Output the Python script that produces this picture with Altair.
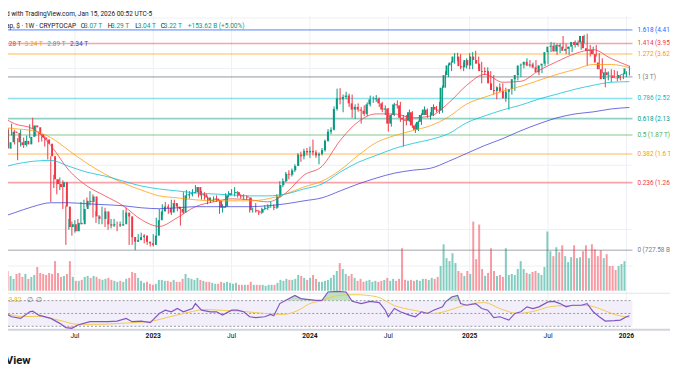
import altair as alt
import pandas as pd

# ---------------- data (weekly bars from 2022-01-03) ----------------
START = pd.Timestamp("2022-01-03")
T0 = START.value // 10**6
WEEK_MS = 7 * 86400000


def wk(w):
    return int(T0 + round(w * WEEK_MS))


first_open = 2.20
close = [
    1.93, 1.98, 1.67, 1.76, 1.92, 1.90, 1.76, 1.72, 1.78, 1.73,
    1.84, 2.02, 1.99, 1.88, 1.83, 1.80, 1.74, 1.57, 1.30, 1.25,
    1.22, 1.27, 1.04, 0.88, 0.90, 0.85, 0.91, 0.90, 1.02, 1.09,
    1.08, 1.13, 0.96, 0.94, 0.94, 1.00, 0.90, 0.89, 0.90, 0.90,
    0.89, 0.90, 0.99, 0.96, 0.81, 0.78, 0.79, 0.81, 0.82, 0.78,
    0.77, 0.76, 0.82, 0.93, 1.00, 1.04, 1.03, 0.99, 1.07, 1.04,
    1.02, 0.99, 1.14, 1.15, 1.16, 1.17, 1.22, 1.14, 1.15, 1.12,
    1.09, 1.10, 1.11, 1.09, 1.03, 1.04, 1.14, 1.16, 1.16, 1.17,
    1.14, 1.13, 1.13, 1.12, 1.01, 1.01, 1.00, 0.99, 1.02, 1.03,
    1.04, 1.04, 1.03, 1.13, 1.24, 1.28, 1.36, 1.35, 1.40, 1.45,
    1.59, 1.57, 1.64, 1.62, 1.64, 1.62, 1.58, 1.60, 1.65, 1.78,
    1.92, 1.95, 2.31, 2.52, 2.50, 2.55, 2.58, 2.42, 2.30, 2.35,
    2.30, 2.28, 2.22, 2.40, 2.50, 2.50, 2.52, 2.42, 2.30, 2.32,
    2.05, 2.20, 2.40, 2.38, 2.15, 2.12, 2.10, 2.25, 2.02, 1.95,
    2.08, 2.20, 2.30, 2.20, 2.20, 2.35, 2.30, 2.28, 2.75, 3.05,
    3.30, 3.38, 3.55, 3.55, 3.28, 3.25, 3.45, 3.30, 3.55, 3.45,
    3.35, 3.15, 3.13, 3.15, 2.85, 2.70, 2.68, 2.76, 2.68, 2.52,
    2.66, 2.72, 2.95, 3.05, 3.30, 3.32, 3.40, 3.30, 3.33, 3.25,
    3.12, 3.30, 3.35, 3.68, 3.85, 3.88, 3.70, 3.90, 3.85, 3.72,
    3.78, 3.85, 4.00, 3.90, 3.98, 4.20, 3.80, 3.72, 3.75, 3.62,
    3.38, 3.20, 2.95, 3.12, 3.05, 3.04, 2.98, 2.97, 3.05, 3.07,
    3.22,
]
high = [
    2.27, 2.06, 2.02, 1.80, 1.95, 2.05, 1.95, 1.82, 1.95, 1.83,
    1.86, 2.04, 2.15, 2.02, 1.92, 1.88, 1.85, 1.80, 1.57, 1.35,
    1.30, 1.32, 1.29, 1.05, 0.94, 0.92, 0.93, 0.94, 1.08, 1.10,
    1.12, 1.18, 1.15, 1.00, 0.97, 1.04, 1.03, 0.93, 0.94, 0.94,
    0.92, 0.92, 1.01, 1.03, 0.97, 0.82, 0.80, 0.83, 0.84, 0.83,
    0.79, 0.78, 0.83, 0.95, 1.02, 1.06, 1.08, 1.06, 1.10, 1.10,
    1.07, 1.03, 1.17, 1.19, 1.18, 1.20, 1.24, 1.22, 1.18, 1.17,
    1.13, 1.12, 1.13, 1.14, 1.10, 1.06, 1.16, 1.18, 1.20, 1.22,
    1.18, 1.15, 1.15, 1.14, 1.12, 1.03, 1.07, 1.01, 1.03, 1.05,
    1.06, 1.08, 1.06, 1.15, 1.28, 1.31, 1.38, 1.40, 1.42, 1.47,
    1.61, 1.63, 1.67, 1.68, 1.70, 1.80, 1.65, 1.62, 1.68, 1.80,
    1.96, 1.99, 2.36, 2.73, 2.74, 2.60, 2.66, 2.62, 2.60, 2.40,
    2.42, 2.35, 2.38, 2.44, 2.58, 2.56, 2.59, 2.54, 2.45, 2.38,
    2.33, 2.22, 2.43, 2.48, 2.45, 2.20, 2.20, 2.30, 2.27, 2.05,
    2.10, 2.23, 2.36, 2.32, 2.25, 2.40, 2.37, 2.45, 2.80, 3.15,
    3.35, 3.42, 3.65, 3.66, 3.62, 3.38, 3.50, 3.65, 3.68, 3.72,
    3.55, 3.40, 3.25, 3.25, 3.15, 3.05, 2.78, 2.85, 2.85, 2.75,
    2.70, 2.78, 2.98, 3.10, 3.35, 3.40, 3.50, 3.45, 3.38, 3.45,
    3.30, 3.33, 3.42, 3.72, 4.00, 3.98, 3.95, 3.95, 4.20, 3.95,
    3.85, 3.90, 4.05, 4.05, 4.02, 4.24, 4.28, 3.90, 3.85, 3.90,
    3.65, 3.50, 3.22, 3.14, 3.20, 3.18, 3.15, 3.05, 3.10, 3.15,
    3.29,
]
low = [
    1.88, 1.87, 1.60, 1.50, 1.68, 1.86, 1.73, 1.52, 1.70, 1.68,
    1.70, 1.82, 1.96, 1.85, 1.76, 1.77, 1.70, 1.53, 1.08, 1.21,
    1.15, 1.19, 1.02, 0.76, 0.86, 0.82, 0.84, 0.85, 0.90, 0.93,
    1.04, 1.05, 0.95, 0.91, 0.90, 0.90, 0.88, 0.86, 0.87, 0.88,
    0.85, 0.88, 0.89, 0.95, 0.76, 0.76, 0.728, 0.78, 0.80, 0.77,
    0.76, 0.75, 0.75, 0.81, 0.92, 0.97, 1.00, 0.98, 0.97, 1.02,
    1.00, 0.89, 0.98, 1.10, 1.11, 1.13, 1.16, 1.12, 1.10, 1.10,
    1.06, 1.07, 1.08, 1.08, 0.98, 0.99, 1.03, 1.12, 1.14, 1.13,
    1.12, 1.11, 1.10, 1.10, 0.99, 0.99, 0.99, 0.97, 0.98, 1.01,
    1.01, 1.03, 1.01, 1.02, 1.12, 1.22, 1.27, 1.30, 1.33, 1.38,
    1.45, 1.50, 1.53, 1.58, 1.55, 1.58, 1.55, 1.47, 1.58, 1.63,
    1.77, 1.88, 1.94, 2.28, 2.40, 2.25, 2.50, 2.35, 2.15, 2.13,
    2.26, 2.05, 2.18, 2.18, 2.36, 2.43, 2.45, 2.35, 2.25, 2.20,
    1.92, 2.00, 2.18, 2.32, 2.08, 1.70, 2.02, 2.08, 1.98, 1.90,
    1.93, 2.03, 2.20, 2.15, 2.12, 2.18, 2.25, 2.22, 2.24, 2.75,
    3.00, 3.15, 3.35, 3.42, 3.20, 3.15, 3.22, 3.20, 3.20, 3.35,
    3.20, 2.85, 3.05, 3.10, 2.70, 2.60, 2.50, 2.65, 2.62, 2.45,
    2.30, 2.60, 2.68, 2.92, 3.00, 3.22, 3.28, 3.25, 3.22, 3.20,
    3.05, 3.10, 3.28, 3.33, 3.68, 3.70, 3.60, 3.65, 3.80, 3.62,
    3.60, 3.68, 3.82, 3.85, 3.75, 3.95, 3.30, 3.55, 3.62, 3.55,
    3.20, 3.10, 2.76, 2.92, 2.88, 2.98, 2.90, 2.92, 2.95, 3.00,
    3.04,
]
volume = [
    18, 20, 20, 15, 12, 17, 18, 14, 17, 12,
    14, 16, 24, 18, 17, 16, 18, 17, 30, 18,
    14, 15, 17, 30, 14, 10, 10, 11, 14, 15,
    13, 15, 14, 12, 11, 12, 13, 11, 10, 9,
    10, 9, 12, 13, 19, 18, 13, 10, 8, 9,
    7, 6, 7, 11, 11, 10, 10, 9, 11, 9,
    9, 12, 17, 13, 12, 11, 13, 11, 10, 9,
    9, 8, 7, 7, 9, 8, 9, 8, 7, 8,
    6, 6, 6, 6, 9, 6, 6, 6, 6, 5,
    6, 6, 6, 8, 11, 10, 12, 11, 11, 12,
    16, 15, 13, 11, 13, 16, 12, 9, 9, 10,
    11, 13, 16, 20, 28, 22, 17, 15, 17, 13,
    10, 12, 9, 10, 11, 9, 10, 9, 10, 11,
    13, 10, 12, 10, 12, 43, 11, 10, 11, 10,
    11, 10, 12, 12, 11, 13, 12, 14, 25, 47,
    33, 30, 38, 28, 20, 18, 15, 20, 17, 70,
    32, 67, 22, 15, 18, 43, 20, 15, 16, 14,
    43, 16, 17, 16, 22, 30, 22, 18, 17, 19,
    20, 18, 16, 24, 60, 40, 35, 44, 39, 46,
    35, 29, 34, 46, 33, 34, 40, 46, 33, 47,
    42, 35, 41, 33, 37, 25, 25, 21, 25, 27,
    30,
]

# moving averages read every 6 weeks (T)
ma_step = 6
ma_red = [2.239, 2.048, 1.967, 1.714, 1.400, 1.231, 1.135, 1.047, 0.935, 0.884,
          0.950, 1.039, 1.081, 1.108, 1.099, 1.081, 1.163, 1.345, 1.446, 1.785,
          2.081, 2.220, 2.220, 2.150, 2.184, 2.427, 2.806, 3.069, 2.876, 2.899,
          3.168, 3.407, 3.635, 3.755, 3.49, 3.28]
ma_orange = [2.0, 1.967, 1.935, 1.829, 1.646, 1.482, 1.356, 1.261, 1.191, 1.135,
             1.117, 1.099, 1.090, 1.090, 1.090, 1.108, 1.153, 1.221, 1.281, 1.400,
             1.581, 1.756, 1.858, 1.935, 2.016, 2.167, 2.407, 2.547, 2.674, 2.784,
             2.922, 3.069, 3.194, 3.326, 3.326, 3.24]
ma_cyan = [1.411, 1.470, 1.506, 1.518, 1.446, 1.378, 1.335, 1.281, 1.231, 1.201,
           1.182, 1.163, 1.153, 1.144, 1.135, 1.135, 1.153, 1.201, 1.251, 1.378,
           1.494, 1.581, 1.672, 1.742, 1.800, 1.889, 2.065, 2.184, 2.293, 2.387,
           2.508, 2.61, 2.717, 2.806, 2.876, 2.89]
ma_blue = [0.942, 0.989, 1.039, 1.073, 1.073, 1.064, 1.056, 1.047, 1.030, 1.022,
           1.030, 1.039, 1.039, 1.039, 1.039, 1.047, 1.064, 1.090, 1.117, 1.182,
           1.251, 1.313, 1.367, 1.400, 1.423, 1.506, 1.607, 1.714, 1.814, 1.935,
           2.048, 2.150, 2.220, 2.257, 2.312, 2.34]

# RSI (week index, value) and its moving average
rsi_w = [1, 5, 8, 11, 12, 14, 18, 21, 23, 25, 27, 31, 34, 37, 40, 43, 45, 48, 51, 54,
         56, 58, 60, 62, 65, 66, 68, 71, 73, 75, 78, 80, 82, 84, 86, 89, 91, 92, 94, 96,
         99, 101, 103, 106, 108, 110, 113, 116, 118, 121, 124, 127, 129, 130, 132, 134,
         137, 139, 141, 143, 145, 148, 149, 151, 153, 154, 156, 159, 161, 163, 165, 167,
         170, 172, 174, 176, 178, 180, 183, 185, 187, 189, 191, 194, 196, 198, 200, 202,
         205, 207, 209, 210]
rsi_v = [55.1, 44.9, 42.3, 52.6, 53.5, 47.4, 42.3, 34.6, 28.0, 26.9, 32.0, 37.2, 37.2,
         37.2, 38.2, 42.3, 37.2, 38.2, 35.7, 50.0, 55.1, 52.6, 57.7, 52.6, 57.7, 65.4,
         55.1, 52.6, 52.6, 47.4, 55.1, 55.1, 52.6, 44.9, 43.4, 44.9, 48.5, 46.5, 65.4,
         70.5, 78.1, 73.1, 72.0, 70.5, 70.5, 83.4, 84.3, 83.4, 68.9, 65.4, 68.9, 66.9,
         55.1, 44.9, 57.7, 52.6, 47.4, 44.9, 52.6, 50.0, 55.1, 60.3, 68.0, 75.7, 78.1,
         65.4, 62.8, 65.4, 57.7, 55.1, 43.4, 44.9, 39.7, 50.0, 52.6, 60.3, 57.7, 60.3,
         68.0, 68.9, 65.4, 60.3, 62.8, 62.8, 65.4, 52.6, 44.9, 38.2, 38.8, 39.7, 44.9,
         46.5]
rsima_w = [1, 8, 14, 21, 27, 34, 41, 47, 51, 58, 65, 69, 76, 82, 89, 95, 100, 104, 108,
           113, 119, 126, 132, 139, 145, 152, 156, 162, 167, 173, 178, 184, 189, 196,
           200, 205, 210]
rsima_v = [54.6, 45.4, 45.4, 39.2, 33.1, 33.1, 34.6, 36.2, 37.7, 45.4, 53.1, 56.2, 54.6,
           53.1, 50.0, 48.5, 54.6, 65.4, 70.0, 77.7, 79.2, 76.2, 62.3, 54.6, 50.0, 57.7,
           63.8, 66.9, 57.7, 50.0, 53.1, 60.8, 62.3, 62.3, 57.7, 48.5, 43.8]

# Fibonacci retracement levels
fib_ratio = ["1.618", "1.414", "1.272", "1", "0.786", "0.618", "0.5", "0.382", "0.236", "0"]
fib_price = [4.414, 3.950, 3.626, 3.005, 2.519, 2.136, 1.867, 1.598, 1.265, 0.72758]
fib_text = ["4.41 T", "3.95 T", "3.62 T", "3 T", "2.52 T", "2.13 T", "1.87 T", "1.6 T",
            "1.26 T", "727.58 B"]
fib_color = ["#2962ff", "#f23645", "#ff9800", "#787b86", "#00bcd4", "#089981", "#4caf50",
             "#ff9800", "#f23645", "#787b86"]

# time-axis labels
tick_weeks = [26, 52, 78, 104, 130, 157, 183, 209]
tick_text = ["Jul", "2023", "Jul", "2024", "Jul", "2025", "Jul", "2026"]

# ---------------- build ----------------
FONT = "Roboto"
UP, DOWN = "#089981", "#f23645"
INK = "#131722"

opens = [first_open] + close[:-1]
candles = pd.DataFrame({
    "t": [wk(i) for i in range(len(close))],
    "open": opens, "high": high, "low": low, "close": close, "vol": volume,
})
candles["dir"] = ["up" if c >= o else "down" for o, c in zip(opens, close)]

XS = alt.Scale(domain=[wk(3.803), wk(211.016)], range=[0, 632])
X = alt.X("t:T", scale=XS, axis=None)
PY = alt.Scale(type="log", domain=[0.72758, 4.404], range=[243, 20.3], nice=False)
VY = alt.Scale(domain=[0, 100], range=[284, 184], nice=False)
RY = alt.Scale(domain=[0, 100], range=[339.5, 274.5], nice=False)
dir_color = alt.Color("dir:N", scale=alt.Scale(domain=["up", "down"], range=[UP, DOWN]),
                      legend=None)

one = pd.DataFrame({"a": [0]})
layers = []

# vertical grid
vg = pd.DataFrame({"t": [wk(w) for w in tick_weeks]})
layers.append(alt.Chart(vg).mark_rule(color="#edf0f5", strokeWidth=1).encode(
    x=X, y=alt.value(6), y2=alt.value(323)))
# horizontal grid
hg = pd.DataFrame({"y": [8, 59, 157, 222, 259]})
layers.append(alt.Chart(hg).mark_rule(color="#edf0f5", strokeWidth=1).encode(
    y=alt.Y("y:Q", scale=None, axis=None), x=alt.value(0), x2=alt.value(632)))

# RSI pane background and guides
layers.append(alt.Chart(one).mark_rect(color="#f3effa").encode(
    x=alt.value(0), x2=alt.value(632), y=alt.value(294), y2=alt.value(320)))
rg = pd.DataFrame({"y": [294, 307, 320]})
layers.append(alt.Chart(rg).mark_rule(color="#9598a1", strokeWidth=1, strokeDash=[2, 2]).encode(
    y=alt.Y("y:Q", scale=None, axis=None), x=alt.value(0), x2=alt.value(632)))
layers.append(alt.Chart(one).mark_rule(color="#e0e3eb", strokeWidth=1).encode(
    y=alt.value(286.5), x=alt.value(0), x2=alt.value(670)))
layers.append(alt.Chart(one).mark_rule(color="#d1d4dc", strokeWidth=2).encode(
    y=alt.value(323.5), x=alt.value(0), x2=alt.value(670)))

# fib lines
fib = pd.DataFrame({"ratio": fib_ratio, "price": fib_price, "col": fib_color,
                    "label": [f"{r} ({v})" for r, v in zip(fib_ratio, fib_text)]})
layers.append(alt.Chart(fib).mark_rule(strokeWidth=1.6, opacity=0.45).encode(
    y=alt.Y("price:Q", scale=PY, axis=None), x=alt.value(0), x2=alt.value(632),
    color=alt.Color("col:N", scale=None)))

# volume
layers.append(alt.Chart(candles).mark_bar(width=2, opacity=0.5).encode(
    x=X, y=alt.Y("vol:Q", scale=VY, axis=None), color=dir_color))

# candles
layers.append(alt.Chart(candles).mark_rule(strokeWidth=1).encode(
    x=X, y=alt.Y("low:Q", scale=PY, axis=None), y2="high:Q", color=dir_color))
layers.append(alt.Chart(candles).mark_bar(width=2).encode(
    x=X, y=alt.Y("open:Q", scale=PY, axis=None), y2="close:Q", color=dir_color))

# moving averages
ma_rows = []
for name, arr in [("ma20", ma_red), ("ma50", ma_orange), ("ma100", ma_cyan), ("ma200", ma_blue)]:
    for k, v in enumerate(arr):
        ma_rows.append({"t": wk(k * ma_step), "v": v, "name": name})
ma_df = pd.DataFrame(ma_rows)
layers.append(alt.Chart(ma_df).mark_line(strokeWidth=1, opacity=0.75, interpolate="monotone").encode(
    x=X, y=alt.Y("v:Q", scale=PY, axis=None),
    color=alt.Color("name:N", scale=alt.Scale(domain=["ma20", "ma50", "ma100", "ma200"],
                                              range=["#f23645", "#ff9800", "#00bcd4", "#3c3cd6"]),
                    legend=None),
    detail="name:N"))


# RSI fills
def band(ws, vs, thr, above):
    pts = []
    for k, (w, v) in enumerate(zip(ws, vs)):
        if k > 0:
            w0, v0 = ws[k - 1], vs[k - 1]
            if (v0 - thr) * (v - thr) < 0:
                pts.append((w0 + (thr - v0) * (w - w0) / (v - v0), thr))
        pts.append((w, max(v, thr) if above else min(v, thr)))
    return pd.DataFrame({"t": [wk(w) for w, _ in pts], "top": [p for _, p in pts], "base": thr})


ob = band(rsi_w, rsi_v, 70, True)
os_ = band(rsi_w, rsi_v, 30, False)
layers.append(alt.Chart(ob).mark_area(color="#a5d6a7", opacity=0.7).encode(
    x=X, y=alt.Y("top:Q", scale=RY, axis=None), y2="base:Q"))
layers.append(alt.Chart(os_).mark_area(color="#f7a9b0", opacity=0.6).encode(
    x=X, y=alt.Y("top:Q", scale=RY, axis=None), y2="base:Q"))

rsima = pd.DataFrame({"t": [wk(w) for w in rsima_w], "v": rsima_v})
layers.append(alt.Chart(rsima).mark_line(color="#f2c94c", strokeWidth=1, interpolate="monotone").encode(
    x=X, y=alt.Y("v:Q", scale=RY, axis=None)))
rsi = pd.DataFrame({"t": [wk(w) for w in rsi_w], "v": rsi_v})
layers.append(alt.Chart(rsi).mark_line(color="#7e57c2", strokeWidth=1.2).encode(
    x=X, y=alt.Y("v:Q", scale=RY, axis=None)))

# fib labels
layers.append(alt.Chart(fib).mark_text(align="left", baseline="middle", font=FONT, fontSize=6.5).encode(
    y=alt.Y("price:Q", scale=PY, axis=None), x=alt.value(637), text="label:N",
    color=alt.Color("col:N", scale=None)))

# time labels
tk = pd.DataFrame({"t": [wk(w) for w in tick_weeks], "txt": tick_text,
                   "bold": [s != "Jul" for s in tick_text]})
layers.append(alt.Chart(tk[~tk["bold"]]).mark_text(baseline="middle", font=FONT, fontSize=6.8,
                                                   color=INK).encode(
    x=X, y=alt.value(330), text="txt:N"))
layers.append(alt.Chart(tk[tk["bold"]]).mark_text(baseline="middle", font=FONT, fontSize=6.8,
                                                  fontWeight="bold", color=INK).encode(
    x=X, y=alt.value(330), text="txt:N"))


def texts(rows, align="left", weight="normal"):
    df = pd.DataFrame(rows, columns=["x", "y", "text", "color", "size"])
    return alt.Chart(df).mark_text(align=align, baseline="middle", font=FONT,
                                   fontWeight=weight).encode(
        x=alt.X("x:Q", scale=None, axis=None), y=alt.Y("y:Q", scale=None, axis=None),
        text="text:N", color=alt.Color("color:N", scale=None),
        size=alt.Size("size:Q", scale=None, legend=None))


GREY = "#787b86"
VAL = "#089981"
layers.append(texts([
    (146, 4, "Created with TradingView.com, Jan 15, 2026 00:52 UTC-5", INK, 6.6),
    (69, 16, "Crypto Total Market Cap, $ · 1W · CRYPTOCAP", INK, 6.6),
], align="right"))
layers.append(texts([
    (73.7, 16, "O", INK, 6.6), (77, 16, "3.07 T", VAL, 6.6),
    (101, 16, "H", INK, 6.6), (104.3, 16, "3.29 T", VAL, 6.6),
    (128.7, 16, "L", INK, 6.6), (131.3, 16, "3.04 T", VAL, 6.6),
    (154.7, 16, "C", INK, 6.6), (157.7, 16, "3.22 T", VAL, 6.6),
    (182, 16, "+153.62 B (+5.00%)", VAL, 6.6),
    (-4.7, 34, "3.28 T", "#f23645", 6.6), (17, 34, "3.24 T", "#ff9800", 6.6),
    (39.7, 34, "2.89 T", "#00bcd4", 6.6), (62.7, 34, "2.34 T", "#3c3cd6", 6.6),
    (-3, 293, "43.82", "#e6b800", 6.6), (19, 293, "∅", GREY, 6.6), (28, 293, "∅", GREY, 6.6),
]))
layers.append(texts([(23, 355, "TradingView", INK, 11.5)], align="right", weight="bold"))

chart = alt.layer(*layers).resolve_scale(
    x="independent", y="independent", color="independent", size="independent"
).properties(
    width=670, height=357, padding=0, autosize=alt.AutoSizeParams(type="none"),
    background="white",
).configure_view(stroke=None)

chart.save("out.html", embed_options={"renderer": "svg", "actions": False})
